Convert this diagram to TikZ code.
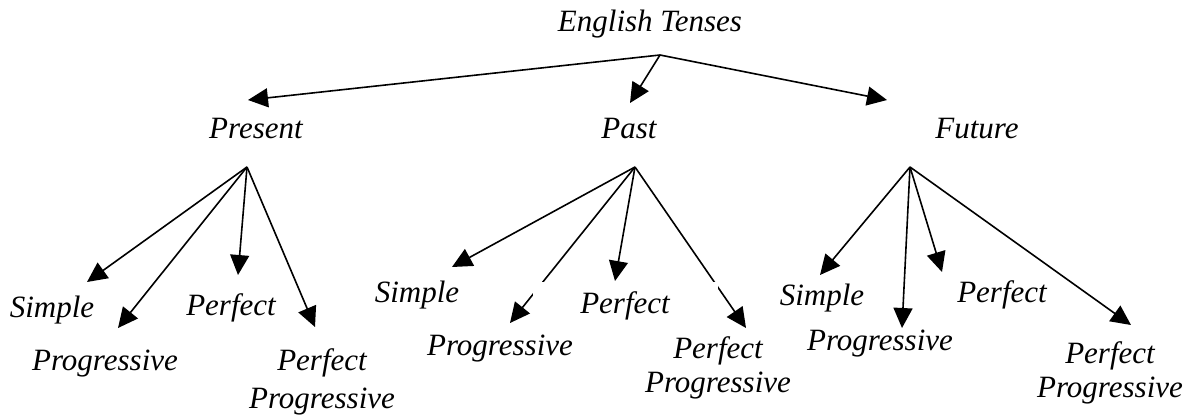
\documentclass[tikz,border=0pt]{standalone}
\usepackage{fontspec}
\setmainfont{Liberation Serif}
\usetikzlibrary{arrows.meta}
\begin{document}
\begin{tikzpicture}[
    x=1pt, y=-1pt,
    tense/.style={anchor=base, inner sep=0pt, align=center, font=\fontsize{31}{34}\selectfont\itshape},
    arrow/.style={-{Triangle[length=20pt, width=19pt]}, line width=1.6pt},
    cover/.style={fill=white, minimum width=185pt, minimum height=46pt}
]
\useasboundingbox (0,0) rectangle (1192,416);

% Fork points and arrow ends
\coordinate (root) at (660, 55);
\coordinate (present-fork) at (247, 167);
\coordinate (past-fork) at (635, 167);
\coordinate (future-fork) at (910, 167);

\coordinate (present-in) at (248, 100);
\coordinate (past-in) at (630, 103);
\coordinate (future-in) at (887, 100);

\coordinate (pr-simple-in) at (87, 282);
\coordinate (pr-prog-in) at (118, 328);
\coordinate (pr-perf-in) at (238, 275);
\coordinate (pr-pp-in) at (315, 327);

\coordinate (pa-simple-in) at (452, 267);
\coordinate (pa-prog-in) at (510, 323);
\coordinate (pa-perf-in) at (615, 281);
\coordinate (pa-pp-in) at (746, 328);

\coordinate (fu-simple-in) at (820, 275);
\coordinate (fu-prog-in) at (902, 328);
\coordinate (fu-perf-in) at (942, 272);
\coordinate (fu-pp-in) at (1131, 325);

% Arrows
\draw[arrow] (root) -- (present-in);
\draw[arrow] (root) -- (past-in);
\draw[arrow] (root) -- (future-in);

\draw[arrow] (present-fork) -- (pr-simple-in);
\draw[arrow] (present-fork) -- (pr-prog-in);
\draw[arrow] (present-fork) -- (pr-perf-in);
\draw[arrow] (present-fork) -- (pr-pp-in);

\draw[arrow] (past-fork) -- (pa-simple-in);
\draw[arrow] (past-fork) -- (pa-prog-in);
\draw[arrow] (past-fork) -- (pa-perf-in);
\draw[arrow] (past-fork) -- (pa-pp-in);

\draw[arrow] (future-fork) -- (fu-simple-in);
\draw[arrow] (future-fork) -- (fu-prog-in);
\draw[arrow] (future-fork) -- (fu-perf-in);
\draw[arrow] (future-fork) -- (fu-pp-in);

% Tenses
\node[tense] (tenses) at (650, 31) {English Tenses};
\node[tense] (present) at (256, 138) {Present};
\node[tense] (past) at (629, 138) {Past};
\node[tense] (future) at (977, 138) {Future};

% Present
\node[tense] (pr-simple) at (52, 317) {Simple};
\node[tense] (pr-prog) at (105, 370) {Progressive};
\node[tense] (pr-perf) at (231, 315) {Perfect};
\node[tense] (pr-pp) at (322, 408) {Perfect\\[4pt]Progressive};

% Past
\node[tense] (pa-simple) at (417, 302) {Simple};
\node[tense] (pa-prog) at (500, 355) {Progressive};
\node[tense, cover] (pa-perf) at (625, 313) {Perfect};
\node[tense] (pa-pp) at (718, 392) {Perfect\\Progressive};

% Future
\node[tense] (fu-simple) at (822, 305) {Simple};
\node[tense] (fu-prog) at (880, 350) {Progressive};
\node[tense] (fu-perf) at (1002, 302) {Perfect};
\node[tense] (fu-pp) at (1110, 397) {Perfect\\Progressive};

\end{tikzpicture}
\end{document}
